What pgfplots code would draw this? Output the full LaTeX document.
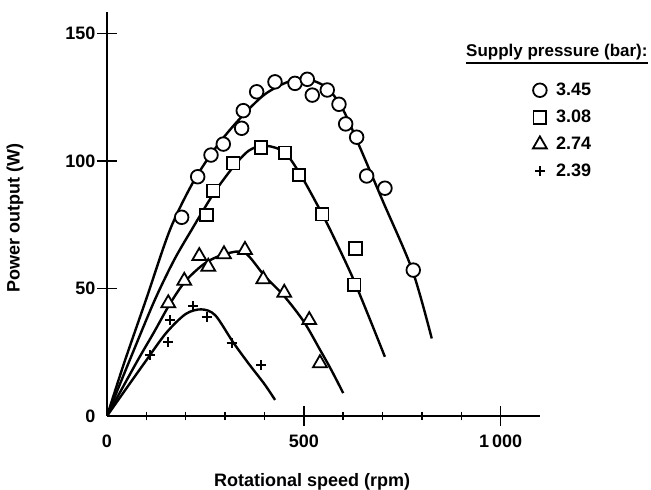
\documentclass[border=0pt]{standalone}
\usepackage{fontspec}
\setmainfont{Liberation Sans}
\usepackage{pgfplots}
\pgfplotsset{compat=1.18}
\begin{document}
\begin{tikzpicture}[x=1pt,y=1pt]
\path[use as bounding box] (0,0) rectangle (651,490);
\begin{axis}[
  at={(107pt,74pt)}, anchor=south west,
  scale only axis, width=433pt, height=404.3pt,
  xmin=0, xmax=1100, ymin=0, ymax=158.5,
  axis x line=bottom, axis y line=left,
  axis line style={line width=2.4pt, -},
  /pgf/number format/1000 sep={\,},
  xticklabel={\mbox{\bfseries\pgfmathprintnumber[assume math mode=true]{\tick}}},
  yticklabel={\mbox{\bfseries\pgfmathprintnumber[assume math mode=true]{\tick}}},
  xtick={500,1000},
  minor xtick={100,200,300,400,600,700,800,900},
  ytick={50,100,150},
  extra x ticks={0},
  extra y ticks={0},
  extra tick style={major tick style={draw=none}},
  tick align=center, major tick length=20pt, minor tick length=8pt,
  tick style={line width=1.4pt, black},
  tick label style={font=\fontsize{18}{20}\selectfont\bfseries},
  xticklabel style={yshift=-5pt},
  yticklabel style={xshift=2pt},
  every axis x label/.style={at={(axis description cs:0.4736,0)}, anchor=center, yshift=-66pt, font=\fontsize{18}{20}\selectfont\bfseries},
  every axis y label/.style={at={(axis description cs:0,0.4896)}, xshift=-92pt, rotate=90, anchor=center, font=\fontsize{18}{20}\selectfont\bfseries},
  xlabel={Rotational speed (rpm)},
  ylabel={Power output (W)},
  legend style={at={(axis description cs:0.9434,0.8335)}, anchor=north west, draw=none, fill=none,
    font=\fontsize{18}{20}\selectfont\bfseries, row sep=9pt},
  legend cell align=left,
  legend image code/.code={\path (0pt,0pt) (35pt,0pt); \draw[#1] plot coordinates {(21pt,0pt)};},
]
% fitted curves
\addplot[line width=2.4pt, smooth, forget plot] coordinates {
(0,0) (44,21) (100,46) (160,73) (220,92) (280,106) (340,117) (400,126) (460,131) (510,132) (560,128.5) (600,120) (642,105.5) (700,84.5) (776,57) (825,30.4)};
\addplot[line width=2.4pt, smooth, forget plot] coordinates {
(0,0) (58,22) (120,45) (170,61) (215,73) (270,87) (320,97.5) (360,104) (400,106) (450,103.5) (490,95) (530,84) (567,73) (622,55) (665,39) (706,23.2)};
\addplot[line width=2.4pt, smooth, forget plot] coordinates {
(0,0) (75,21) (120,33) (160,44) (200,53) (250,60) (300,63.5) (350,64) (400,55) (450,47) (500,37) (541,26) (570,18) (600,9)};
\addplot[line width=2.4pt, smooth, forget plot] coordinates {
(0,0) (50,11) (96,21) (150,32.5) (200,40) (240,41.8) (275,39.5) (320,29) (360,20.5) (400,12.5) (427,6.3)};
% measured points
\addplot[only marks, mark=*, mark size=6.8pt, mark options={line width=1.8pt, fill=white, draw=black}] coordinates {
(189.7,77.9) (230.4,93.8) (264.2,102.3) (295.4,106.6) (342.1,112.8) (346.2,119.7) (380.2,127.1) (426.7,131.0) (477.5,130.4) (508.8,132.0) (521.5,125.8) (559.6,127.8) (589.3,122.2) (606.3,114.5) (634.2,109.3) (659.6,94.1) (706.1,89.3) (778.0,57.2)};
\addplot[only marks, mark=square*, mark size=6.3pt, mark options={line width=1.8pt, fill=white, draw=black}] coordinates {
(253.2,78.8) (270.0,88.3) (320.8,99.1) (391.2,105.3) (452.1,103.2) (487.7,94.5) (546.9,79.1) (631.7,65.7) (628.1,51.4)};
\addplot[only marks, mark=triangle*, mark size=8pt, mark options={line width=1.8pt, fill=white, draw=black}] coordinates {
(155.7,44.2) (196.3,53.0) (234.4,62.7) (257.3,58.5) (297.2,63.4) (350.5,65.1) (397.0,53.6) (450.3,48.3) (513.8,37.6) (541.0,20.7)};
\addplot[only marks, mark=+, mark size=5pt, mark options={line width=2pt, draw=black}] coordinates {
(109.2,23.9) (155.7,29.1) (160.0,37.6) (219.2,43.1) (253.2,38.7) (316.7,28.5) (391.2,20.0)};
\legend{3.45,3.08,2.74,2.39}
\end{axis}
\node[anchor=west, font=\fontsize{17}{20}\selectfont\bfseries, inner sep=0pt] (title) at (466,438) {Supply pressure (bar):};
\draw[line width=1.8pt] (466,427) -- (648,427);
\end{tikzpicture}
\end{document}
